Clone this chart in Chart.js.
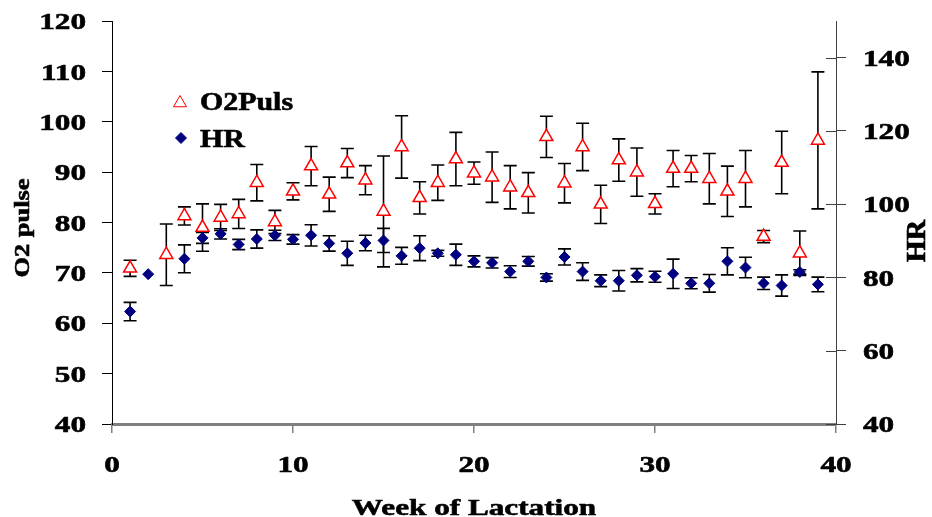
<!DOCTYPE html>
<html>
<head>
<meta charset="utf-8">
<title>O2 pulse and HR by week of lactation</title>
<script src="https://cdn.jsdelivr.net/npm/chart.js@4.4.1/dist/chart.umd.min.js"></script>
<style>
  html, body { margin: 0; padding: 0; background: #fff; }
  #wrap { width: 932px; height: 517px; position: relative; }
</style>
</head>
<body>
<div id="wrap"><canvas id="chart"></canvas></div>
<script>
// Week of lactation (x)
const weeks = [1, 2, 3, 4, 5, 6, 7, 8, 9, 10, 11, 12, 13, 14, 15, 16, 17, 18, 19, 20,
               21, 22, 23, 24, 25, 26, 27, 28, 29, 30, 31, 32, 33, 34, 35, 36, 37, 38, 39];

// O2 pulse, left axis (mean and +/- error)
const o2Mean = [70.9, null, 73.6, 81.3, 79.0, 81.0, 81.7, 87.9, 80.1, 86.2,
                91.2, 85.6, 91.8, 88.4, 82.2, 95.0, 84.9, 87.9, 92.6, 89.8,
                89.0, 87.0, 85.9, 97.0, 87.8, 95.0, 83.6, 92.4, 90.0, 83.7,
                90.7, 90.7, 88.7, 86.2, 88.7, 77.2, 91.9, 73.9, 96.3];
const o2Err = [1.6, null, 6.1, 1.8, 4.7, 2.6, 2.9, 3.6, 2.3, 1.7,
               3.9, 3.4, 2.9, 2.9, 11.0, 6.2, 3.2, 3.5, 5.3, 2.2,
               5.0, 4.3, 4.0, 4.1, 3.9, 4.7, 3.8, 4.2, 4.8, 2.0,
               3.6, 2.6, 5.0, 5.0, 5.6, 1.2, 6.2, 4.4, 13.6];

// HR, right axis (mean and +/- error)
const hrMean = [70.7, 80.9, null, 85.1, 90.8, 91.9, 89.0, 90.5, 91.5, 90.4,
                91.5, 89.3, 86.6, 89.4, 90.1, 85.9, 88.0, 86.6, 86.2, 84.4,
                84.0, 81.6, 84.4, 80.0, 85.6, 81.6, 79.1, 79.1, 80.6, 80.2,
                81.0, 78.4, 78.4, 84.4, 82.7, 78.4, 77.8, 81.5, 78.1];
const hrErr = [2.5, 0, null, 3.8, 1.5, 1.4, 1.4, 2.5, 1.4, 1.3,
               2.9, 2.1, 3.3, 2.1, 3.3, 2.3, 3.4, 0.8, 2.9, 1.5,
               1.4, 1.6, 1.3, 1.0, 2.2, 2.4, 1.6, 2.8, 1.8, 1.5,
               4.0, 1.5, 2.4, 3.7, 2.8, 1.7, 2.9, 0.6, 2.0];

// Axis ticks
const xTicks = [0, 10, 20, 30, 40];
const o2Ticks = [40, 50, 60, 70, 80, 90, 100, 110, 120];
const hrTicks = [40, 60, 80, 100, 120, 140];
const HR_MAX = 150;

const SERIF = '"Liberation Serif", "Times New Roman", serif';
const RED = '#ff0000';
const NAVY = '#000080';

(function () {
    'use strict';

    const series = [
        { label: 'O2Puls', mean: o2Mean, err: o2Err, axis: 'y' },
        { label: 'HR', mean: hrMean, err: hrErr, axis: 'y1' }
    ];

    function points(mean) {
        return weeks.map((w, i) => ({ x: w, y: mean[i] }));
    }

    function fixTicks(values) {
        return function (scale) {
            scale.ticks = values.map(v => ({ value: v }));
        };
    }

    // The source picture has its lettering stretched sideways, so text is
    // drawn here with a horizontal scale factor (and a thin outline for weight).
    function wideText(ctx, text, x, y, size, sx, align, base, angle) {
        ctx.save();
        ctx.translate(x, y);
        if (angle) ctx.rotate(angle);
        ctx.scale(sx, 1);
        ctx.font = 'bold ' + size + 'px ' + SERIF;
        ctx.fillStyle = '#000';
        ctx.strokeStyle = '#000';
        ctx.lineWidth = 0.6;
        ctx.textAlign = align;
        ctx.textBaseline = base;
        ctx.fillText(text, 0, 0);
        ctx.strokeText(text, 0, 0);
        ctx.restore();
    }

    // Error bars go under the markers
    const errorBars = {
        id: 'errorBars',
        beforeDatasetsDraw(c) {
            const ctx = c.ctx;
            const xs = c.scales.x;
            ctx.save();
            ctx.strokeStyle = '#000';
            ctx.lineWidth = 1.6;
            series.forEach(s => {
                const ys = c.scales[s.axis];
                s.mean.forEach((m, i) => {
                    const e = s.err[i];
                    if (m == null || !e) return;
                    const x = xs.getPixelForValue(weeks[i]);
                    const top = ys.getPixelForValue(m + e);
                    const bot = ys.getPixelForValue(m - e);
                    ctx.beginPath();
                    ctx.moveTo(x, top); ctx.lineTo(x, bot);
                    ctx.moveTo(x - 6.5, top); ctx.lineTo(x + 6.5, top);
                    ctx.moveTo(x - 6.5, bot); ctx.lineTo(x + 6.5, bot);
                    ctx.stroke();
                });
            });
            ctx.restore();
        }
    };

    // Tick labels, axis titles, legend and the inner half of the right ticks
    const labels = {
        id: 'labels',
        afterDraw(c) {
            const ctx = c.ctx;
            const xs = c.scales.x, yl = c.scales.y, yr = c.scales.y1;
            const area = c.chartArea;

            ctx.save();
            ctx.strokeStyle = '#404040';
            ctx.lineWidth = 1;
            yr.ticks.forEach(t => {
                const y = Math.round(yr.getPixelForValue(t.value)) + 0.5;
                ctx.beginPath();
                ctx.moveTo(yr.left - 10, y);
                ctx.lineTo(yr.left, y);
                ctx.stroke();
            });
            ctx.restore();

            yl.ticks.forEach(t => {
                wideText(ctx, String(t.value), yl.right - 26, yl.getPixelForValue(t.value) + 2, 24, 1.3, 'right', 'middle');
            });
            yr.ticks.forEach(t => {
                wideText(ctx, String(t.value), yr.left + 27, yr.getPixelForValue(t.value) + 2, 24, 1.3, 'left', 'middle');
            });
            xs.ticks.forEach(t => {
                wideText(ctx, String(t.value), xs.getPixelForValue(t.value), xs.top + 42, 24, 1.3, 'center', 'middle');
            });

            wideText(ctx, 'Week of Lactation', (area.left + area.right) / 2, 515, 24, 1.3, 'center', 'alphabetic');
            wideText(ctx, 'O2 pulse', 23, 228, 22, 1.2, 'center', 'middle', -Math.PI / 2);
            wideText(ctx, 'HR', 918, 241, 27, 1.05, 'center', 'middle', -Math.PI / 2);

            // legend
            ctx.save();
            ctx.fillStyle = '#fff';
            ctx.strokeStyle = RED;
            Chart.helpers.drawPoint(ctx, { pointStyle: 'triangle', radius: 7.5, borderWidth: 1.5, rotation: 0 }, 180, 103);
            ctx.fillStyle = NAVY;
            ctx.strokeStyle = NAVY;
            Chart.helpers.drawPoint(ctx, { pointStyle: 'rectRot', radius: 5.5, borderWidth: 1, rotation: 0 }, 181, 138);
            ctx.restore();
            wideText(ctx, series[0].label, 200, 103, 26, 1.15, 'left', 'middle');
            wideText(ctx, series[1].label, 200, 140, 26, 1.15, 'left', 'middle');
        }
    };

    const noLabels = { display: false };

    new Chart(document.getElementById('chart'), {
        type: 'scatter',
        data: {
            datasets: [
                {
                    label: series[0].label,
                    data: points(o2Mean),
                    yAxisID: 'y',
                    pointStyle: 'triangle',
                    pointRadius: 7.5,
                    pointBorderWidth: 1.5,
                    pointBorderColor: RED,
                    pointBackgroundColor: '#fff',
                    showLine: false
                },
                {
                    label: series[1].label,
                    data: points(hrMean),
                    yAxisID: 'y1',
                    pointStyle: 'rectRot',
                    pointRadius: 5.5,
                    pointBorderWidth: 1,
                    pointBorderColor: NAVY,
                    pointBackgroundColor: NAVY,
                    showLine: false
                }
            ]
        },
        options: {
            responsive: true,
            maintainAspectRatio: false,
            animation: false,
            layout: { padding: { top: 21, left: 0, right: 0, bottom: 0 } },
            plugins: {
                legend: { display: false },
                tooltip: { enabled: false }
            },
            scales: {
                x: {
                    type: 'linear',
                    min: 0,
                    max: 40,
                    afterBuildTicks: fixTicks(xTicks),
                    ticks: noLabels,
                    grid: { drawOnChartArea: false, tickLength: 9, color: '#808080', lineWidth: 1.5 },
                    border: { color: '#808080', width: 3 },
                    afterFit(s) { s.height = 93; }
                },
                y: {
                    position: 'left',
                    min: 40,
                    max: 120,
                    afterBuildTicks: fixTicks(o2Ticks),
                    ticks: noLabels,
                    grid: { drawOnChartArea: false, tickLength: 10, color: '#000', lineWidth: 1 },
                    border: { color: '#000', width: 1 },
                    afterFit(s) { s.width = 112; }
                },
                y1: {
                    position: 'right',
                    min: 40,
                    max: HR_MAX,
                    afterBuildTicks: fixTicks(hrTicks),
                    ticks: noLabels,
                    grid: { drawOnChartArea: false, tickLength: 10, color: '#404040', lineWidth: 1 },
                    border: { color: '#404040', width: 1 },
                    afterFit(s) { s.width = 96; }
                }
            }
        },
        plugins: [errorBars, labels]
    });
})();
</script>
</body>
</html>
